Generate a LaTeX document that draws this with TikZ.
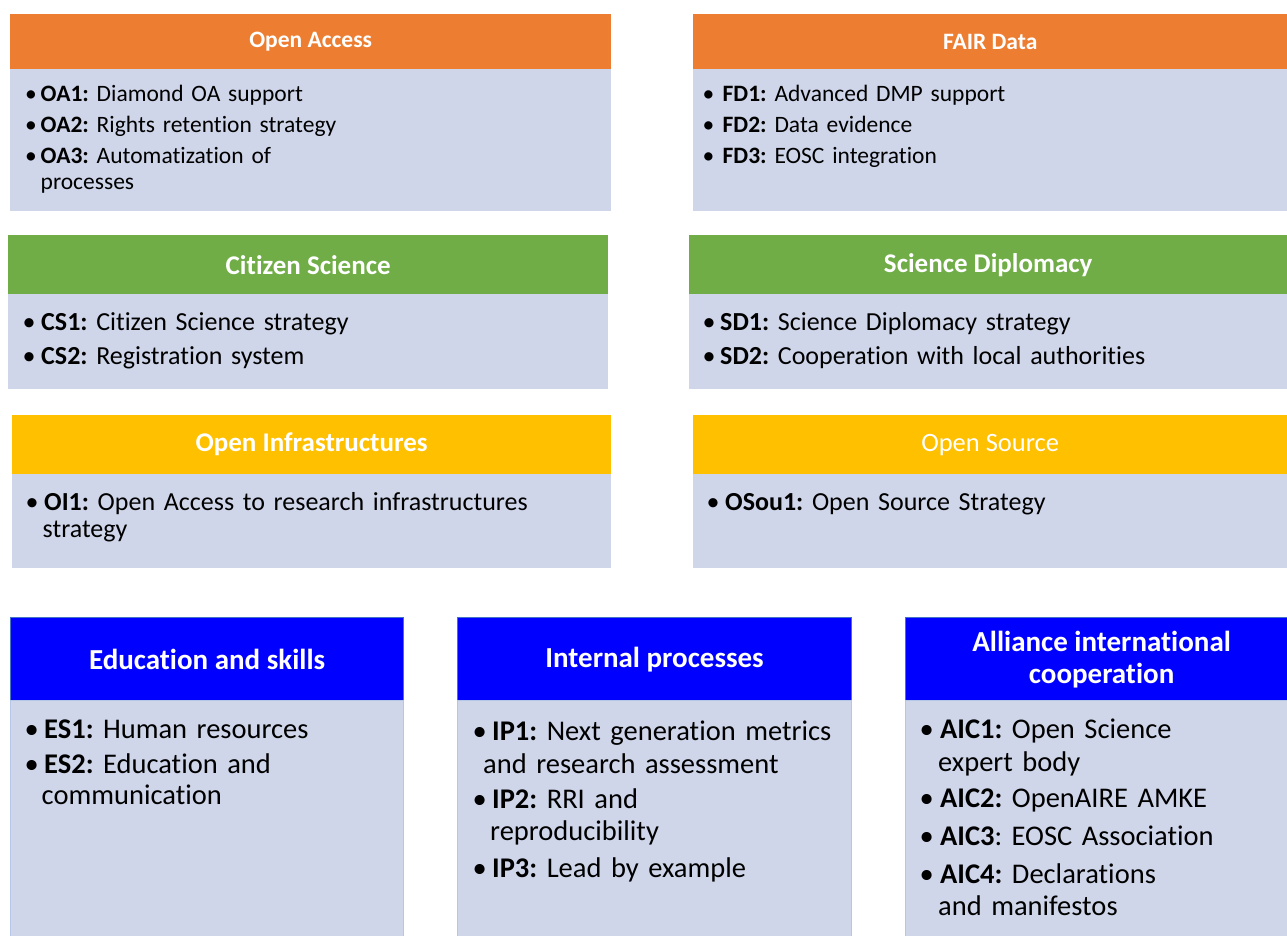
\documentclass[tikz,border=0pt]{standalone}
\usepackage{fontspec}
\setmainfont{Carlito}[Ligatures=CommonOff]
\frenchspacing
\definecolor{oaorange}{HTML}{ED7D31}
\definecolor{csgreen}{HTML}{70AD47}
\definecolor{oiyellow}{HTML}{FFC000}
\definecolor{hblue}{HTML}{0000FF}
\definecolor{bodyblue}{HTML}{CFD6EA}
\definecolor{edgeblue}{HTML}{4472C4}
\definecolor{edgelight}{HTML}{B4C7E7}
\newcommand\blt[1]{\makebox[#1][l]{\textbullet}}
\tikzset{
  hdr/.style={rectangle, inner sep=0pt, anchor=north west, text=white, align=center},
  bodybox/.style={rectangle, inner sep=0pt, anchor=north west, fill=bodyblue},
  tophdr/.style={hdr, fill=oaorange, minimum height=55pt, font=\fontsize{23.5}{28}\selectfont\bfseries},
  midhdr/.style={hdr, minimum height=59pt, font=\fontsize{27}{32}\selectfont\bfseries},
  smallbody/.style={anchor=base west, inner sep=0pt, align=left, text width=560pt, font=\fontsize{23.5}{26}\selectfont},
  midbody/.style={anchor=base west, inner sep=0pt, align=left, text width=570pt, font=\fontsize{26}{27}\selectfont},
  bigbody/.style={anchor=base west, inner sep=0pt, align=left, text width=370pt, font=\fontsize{28.5}{31}\selectfont},
  bighdr/.style={hdr, fill=hblue, draw=edgeblue, line width=1.2pt, minimum height=83pt, font=\fontsize{29}{32}\selectfont\bfseries},
  bigbodybox/.style={bodybox, draw=edgelight, line width=1pt},
}
\begin{document}
\begin{tikzpicture}[x=1pt,y=-1pt]
\useasboundingbox (0,0) rectangle (1287,936);
\fill[white] (0,0) rectangle (1287,936);

% ---------- Open Access ----------
\node[tophdr, minimum width=601pt] (oah) at (10,14) {Open Access};
\node[bodybox, minimum width=601pt, minimum height=142pt] (oab) at (10,69) {};
\node[smallbody] (oat) at (25,101.5) {\blt{15.5pt}\textbf{OA1:} Diamond OA support\\[5pt]
\blt{15.5pt}\textbf{OA2:} Rights retention strategy\\[5pt]
\blt{15.5pt}\textbf{OA3:} Automatization of\\
\hspace*{15.5pt}processes};

% ---------- FAIR Data ----------
\node[tophdr, minimum width=594pt] (fdh) at (693,14) {FAIR Data};
\node[bodybox, minimum width=594pt, minimum height=142pt] (fdb) at (693,69) {};
\node[smallbody] (fdt) at (702.5,101.5) {\blt{20pt}\textbf{FD1:} Advanced DMP support\\[5pt]
\blt{20pt}\textbf{FD2:} Data evidence\\[5pt]
\blt{20pt}\textbf{FD3:} EOSC integration};

% ---------- Citizen Science ----------
\node[midhdr, fill=csgreen, minimum width=600pt] (csh) at (8,235) {Citizen Science};
\node[bodybox, minimum width=600pt, minimum height=95pt] (csb) at (8,294) {};
\node[midbody] (cst) at (22.5,330.5) {\blt{18.5pt}\textbf{CS1:} Citizen Science strategy\\[7pt]
\blt{18.5pt}\textbf{CS2:} Registration system};

% ---------- Science Diplomacy ----------
\node[midhdr, fill=csgreen, minimum width=598pt] (sdh) at (689,235) {Science Diplomacy};
\node[bodybox, minimum width=598pt, minimum height=95pt] (sdb) at (689,294) {};
\node[midbody] (sdt) at (702.5,330.5) {\blt{17.5pt}\textbf{SD1:} Science Diplomacy strategy\\[7pt]
\blt{17.5pt}\textbf{SD2:} Cooperation with local authorities};

% ---------- Open Infrastructures ----------
\node[midhdr, fill=oiyellow, minimum width=599pt] (oih) at (12,415) {Open Infrastructures};
\node[bodybox, minimum width=599pt, minimum height=94pt] (oib) at (12,474) {};
\node[midbody] (oit) at (25.5,510.5) {\blt{18.5pt}\textbf{OI1:} Open Access to research infrastructures\\
\hspace*{17pt}strategy};

% ---------- Open Source ----------
\node[midhdr, fill=oiyellow, minimum width=594pt, font=\fontsize{26.5}{32}\selectfont\mdseries] (osh) at (693,415) {Open Source};
\node[bodybox, minimum width=594pt, minimum height=94pt] (osb) at (693,474) {};
\node[midbody] (ost) at (706.5,510.5) {\blt{18.5pt}\textbf{OSou1:} Open Source Strategy};

% ---------- Education and skills ----------
\node[bighdr, minimum width=393pt] (esh) at (10,617) {Education and skills};
\node[bigbodybox, minimum width=393pt, minimum height=245pt] (esb) at (10,700) {};
\node[bigbody] (est) at (24.5,738.5) {\blt{19.5pt}\textbf{ES1:} Human resources\\[4pt]
\blt{19.5pt}\textbf{ES2:} Education and\\
\hspace*{17pt}communication};

% ---------- Internal processes ----------
\node[bighdr, minimum width=394pt] (iph) at (457,617) {Internal processes};
\node[bigbodybox, minimum width=394pt, minimum height=245pt] (ipb) at (457,700) {};
\node[bigbody] (ipt) at (472.5,740.5) {\blt{19.5pt}\textbf{IP1:} Next generation metrics\\[1.5pt]
\hspace*{10.5pt}and research assessment\\[4pt]
\blt{19.5pt}\textbf{IP2:} RRI and\\[1pt]
\hspace*{17.5pt}reproducibility\\[6pt]
\blt{19.5pt}\textbf{IP3:} Lead by example};

% ---------- Alliance international cooperation ----------
\node[bighdr, minimum width=392pt] (aich) at (905,617) {Alliance international\\cooperation};
\node[bigbodybox, minimum width=392pt, minimum height=245pt] (aicb) at (905,700) {};
\node[bigbody] (aict) at (919.5,738.5) {\blt{20.5pt}\textbf{AIC1:} Open Science\\[1.5pt]
\hspace*{18.5pt}expert body\\[5pt]
\blt{20.5pt}\textbf{AIC2:} OpenAIRE AMKE\\[7pt]
\blt{20.5pt}\textbf{AIC3}: EOSC Association\\[7pt]
\blt{20.5pt}\textbf{AIC4:} Declarations\\[1.5pt]
\hspace*{18.5pt}and manifestos};
\end{tikzpicture}
\end{document}
